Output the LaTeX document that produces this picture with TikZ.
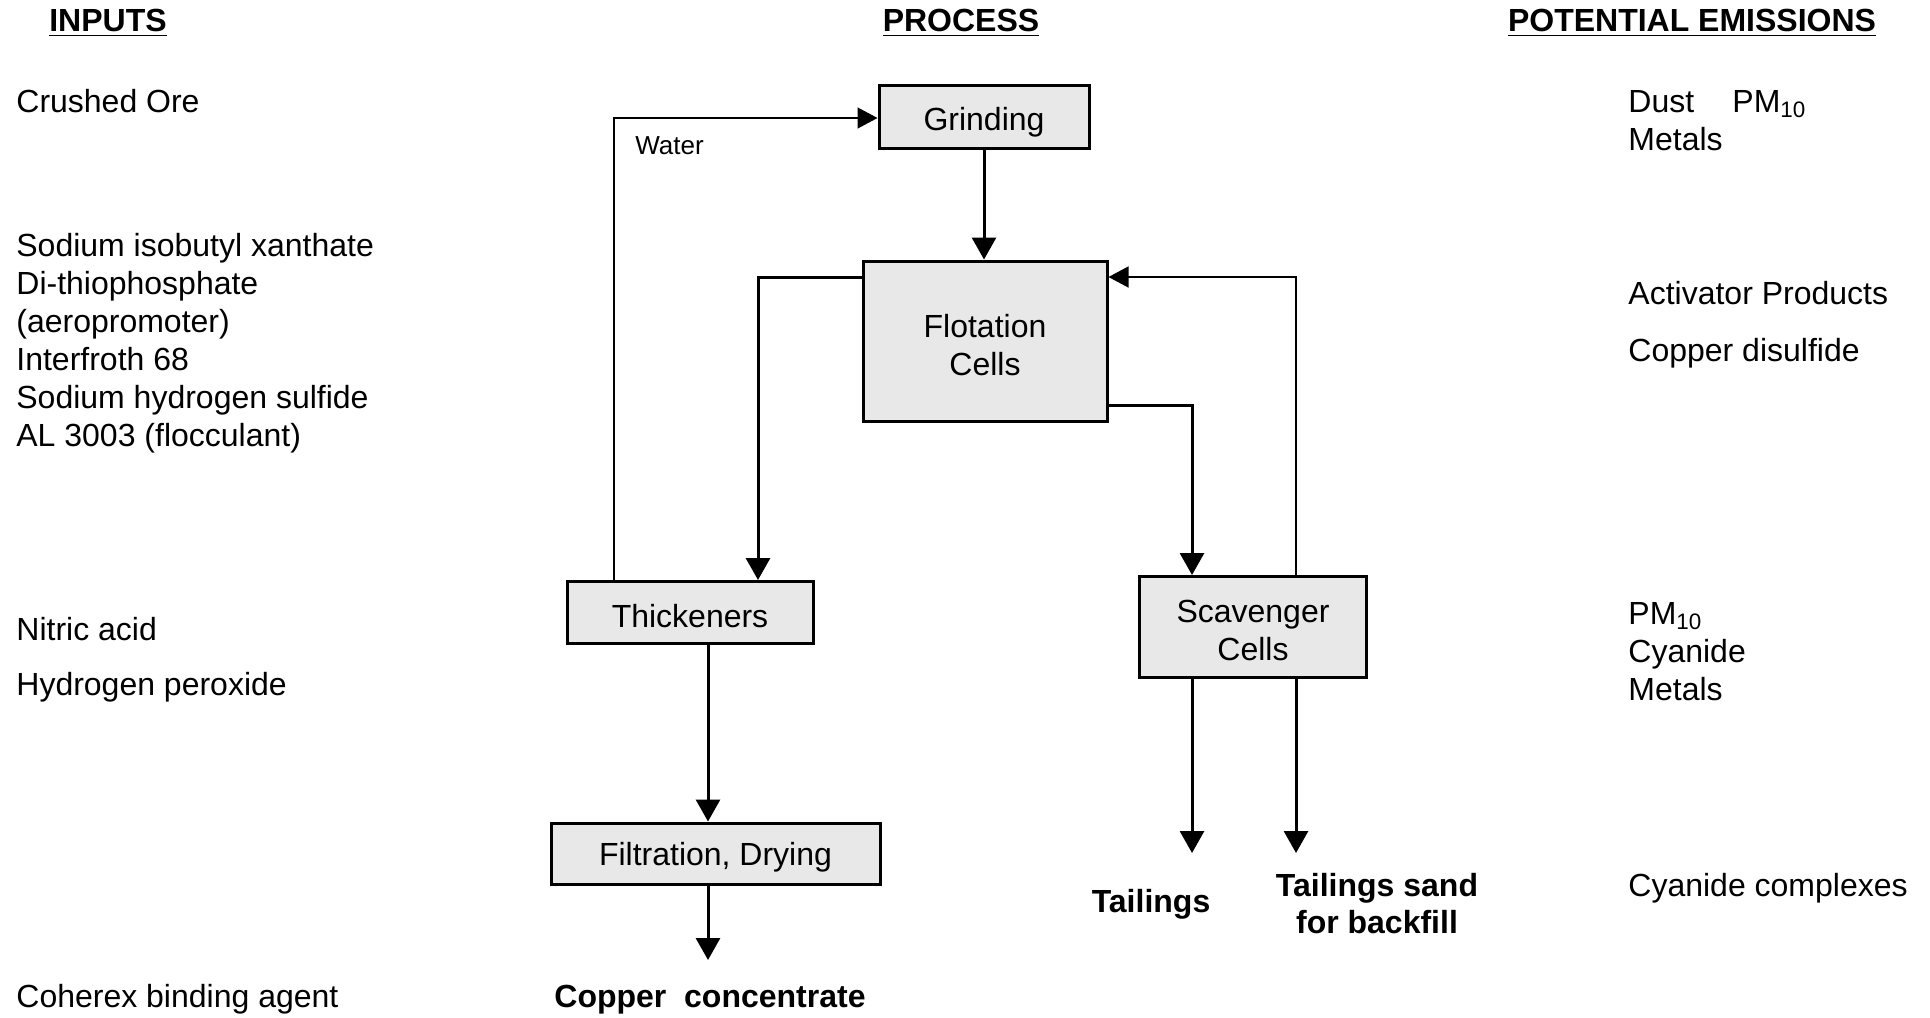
\documentclass[tikz,border=0pt]{standalone}
\usepackage{fontspec}
\setmainfont{Liberation Sans}
\usetikzlibrary{arrows.meta}
\definecolor{boxfill}{HTML}{E8E8E8}
\begin{document}
\begin{tikzpicture}[x=0.5pt,y=-0.5pt,
  txt/.style={anchor=base west,inner sep=0pt,font=\fontsize{16}{19}\selectfont,align=left},
  hdr/.style={anchor=base,inner sep=0pt,font=\fontsize{16}{19}\selectfont\bfseries},
  outtxt/.style={anchor=base,inner sep=0pt,font=\fontsize{16}{18.5}\selectfont\bfseries,align=center},
  box/.style={draw,line width=1.5pt,fill=boxfill,inner sep=0pt,align=center,
    font=\fontsize{16}{19}\selectfont,text depth=0pt},
  flow/.style={line width=1.5pt,-{Triangle[length=11pt,width=12pt]}},
  recycle/.style={line width=0.7pt,-{Triangle[length=10pt,width=10.5pt]}},
]
\useasboundingbox (0,0) rectangle (1930,1017);

% column headings
\node[hdr] (hin)  at (108,32)  {\underline{INPUTS}};
\node[hdr] (hpro) at (961,32)  {\underline{PROCESS}};
\node[hdr] (hem)  at (1692,32) {\underline{POTENTIAL EMISSIONS}};

% inputs (multi-line nodes are placed by the baseline of their last line)
\node[txt] (in1) at (16,112) {Crushed Ore};
\node[txt] (in2) at (16,446) {Sodium isobutyl xanthate\\Di-thiophosphate\\(aeropromoter)\\Interfroth 68\\Sodium hydrogen sulfide\\AL 3003 (flocculant)};
\node[txt] (in3) at (16,640) {Nitric acid};
\node[txt] (in4) at (16,695) {Hydrogen peroxide};
\node[txt] (in5) at (16,1007) {Coherex binding agent};

% potential emissions
\node[txt] (em1) at (1628,112) {Dust};
\node[txt] (em1b) at (1732,112) {PM\textsubscript{10}};
\node[txt] (em2) at (1628,150) {Metals};
\node[txt] (em3) at (1628,304) {Activator Products};
\node[txt] (em4) at (1628,361) {Copper disulfide};
\node[txt] (em5) at (1628,700) {PM\textsubscript{10}\\Cyanide\\Metals};
\node[txt] (em6) at (1628,896) {Cyanide complexes};

% process units
\node[box,minimum width=105pt,minimum height=31.5pt,text height=13.6pt] (grind) at (984,116.5) {Grinding};
\node[box,minimum width=122pt,minimum height=80pt,text height=34.3pt] (flot) at (985,341) {Flotation\\Cells};
\node[box,minimum width=123pt,minimum height=31pt,text height=14.6pt] (thick) at (690,612.5) {Thickeners};
\node[box,minimum width=113.5pt,minimum height=50.5pt,text height=33.2pt] (scav) at (1253,627) {Scavenger\\Cells};
\node[box,minimum width=164.5pt,minimum height=30.5pt,text height=11.8pt] (filt) at (715.5,853.5) {Filtration, Drying};

% products
\node[outtxt] (tail) at (1151,912) {Tailings};
\node[outtxt] (sand) at (1377,933) {Tailings sand\\for backfill};
\node[outtxt] (conc) at (710,1007) {Copper\ \ concentrate};

% water label
\node[anchor=base west,inner sep=0pt,font=\fontsize{13}{15}\selectfont] (water) at (635,154) {Water};

% connector bend points
\coordinate (fl) at (flot.west |- 0,277);
\coordinate (fr) at (flot.east |- 0,405);
\coordinate (fin) at (flot.east |- 0,277);
\coordinate (gin) at (grind.west |- 0,118);
\coordinate (thin) at (758,0);
\coordinate (tout) at (708,0);
\coordinate (wat) at (614,0);
\coordinate (sa) at (1192,0);
\coordinate (sb) at (1296,0);
\coordinate (ctip) at (708,960);
\coordinate (t1) at (1192,853);
\coordinate (t2) at (1296,853);

% main flow
\draw[flow] (grind.south) -- (grind.south |- flot.north);
\draw[flow] (fl) -- (thin |- fl) -- (thin |- thick.north);
\draw[flow] (fr) -- (sa |- fr) -- (sa |- scav.north);
\draw[flow] (tout |- thick.south) -- (tout |- filt.north);
\draw[flow] (tout |- filt.south) -- (ctip);
\draw[flow] (sa |- scav.south) -- (t1);
\draw[flow] (sb |- scav.south) -- (t2);

% recycle streams
\draw[recycle] (wat |- thick.north) -- (wat |- gin) -- (gin);
\draw[recycle] (sb |- scav.north) -- (sb |- fin) -- (fin);
\end{tikzpicture}
\end{document}
